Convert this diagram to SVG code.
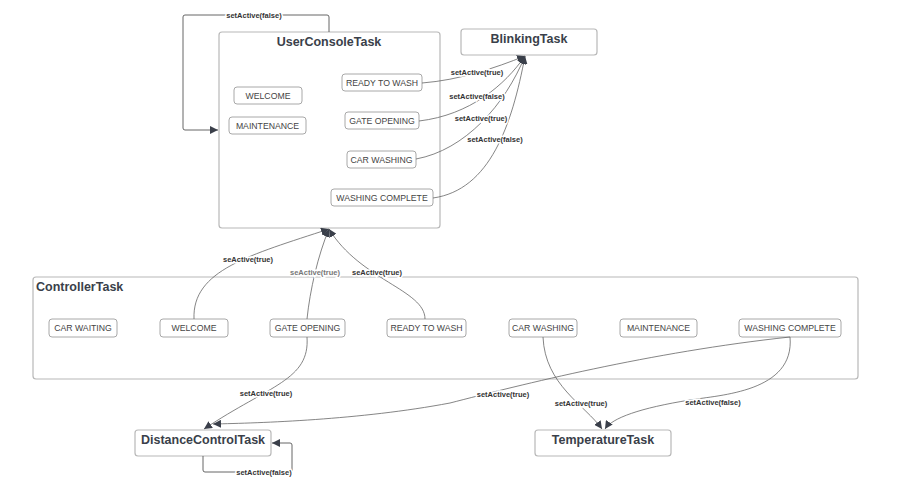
<svg xmlns="http://www.w3.org/2000/svg" width="898" height="492" viewBox="0 0 898 492">
<defs>
<marker id="ah" markerUnits="userSpaceOnUse" markerWidth="9" markerHeight="8" refX="8" refY="4" orient="auto">
<path d="M0,0 L8,4 L0,8 z" fill="#3a3f4a"/>
</marker>
<style>
.box{fill:#fff;stroke:#b8b8b8;stroke-width:1.2}
.st{fill:#fff;stroke:#a8a8a8;stroke-width:1}
.title{font-family:"Liberation Sans",Arial,sans-serif;font-weight:bold;font-size:12.5px;fill:#3a3f4a}
.nt{font-family:"Liberation Sans",Arial,sans-serif;font-size:8.7px;fill:#444;text-anchor:middle}
.lbl{font-family:"Liberation Sans",Arial,sans-serif;font-size:7.5px;font-weight:bold;fill:#333;text-anchor:middle;stroke:#fff;stroke-width:3;paint-order:stroke}
.c{fill:none;stroke:#666;stroke-width:0.8}
.cd{fill:none;stroke:#555;stroke-width:0.9}
</style>
</defs>
<rect width="898" height="492" fill="#fff"/>

<g id="UserConsoleTask">
<rect class="box" x="219" y="32" width="221" height="196" rx="3"/>
<text class="title" x="329" y="46" text-anchor="middle">UserConsoleTask</text>
</g>
<g id="uc-welcome"><rect class="st" x="234" y="87" width="68" height="17" rx="3"/><text class="nt" x="268" y="98.5">WELCOME</text></g>
<g id="uc-maintenance"><rect class="st" x="229" y="117" width="77" height="17" rx="3"/><text class="nt" x="267.5" y="128.5">MAINTENANCE</text></g>
<g id="uc-ready"><rect class="st" x="342" y="74" width="80" height="17" rx="3"/><text class="nt" x="382" y="85.5">READY TO WASH</text></g>
<g id="uc-gate"><rect class="st" x="345" y="112" width="74" height="17" rx="3"/><text class="nt" x="382" y="123.5">GATE OPENING</text></g>
<g id="uc-carwashing"><rect class="st" x="347" y="151" width="69" height="17" rx="3"/><text class="nt" x="381.5" y="162.5">CAR WASHING</text></g>
<g id="uc-complete"><rect class="st" x="331" y="189" width="102" height="17" rx="3"/><text class="nt" x="382" y="200.5">WASHING COMPLETE</text></g>

<g id="BlinkingTask">
<rect class="box" x="461" y="29" width="136" height="26" rx="3"/>
<text class="title" x="529" y="43" text-anchor="middle">BlinkingTask</text>
</g>

<g id="ControllerTask">
<rect class="box" x="33" y="277" width="825" height="102" rx="3"/>
<text class="title" x="36" y="291">ControllerTask</text>
</g>
<g id="ct-carwaiting"><rect class="st" x="49" y="319" width="68" height="18" rx="3"/><text class="nt" x="83" y="330.5">CAR WAITING</text></g>
<g id="ct-welcome"><rect class="st" x="160" y="319" width="68" height="18" rx="3"/><text class="nt" x="194" y="330.5">WELCOME</text></g>
<g id="ct-gate"><rect class="st" x="270" y="319" width="75" height="18" rx="3"/><text class="nt" x="307.5" y="330.5">GATE OPENING</text></g>
<g id="ct-ready"><rect class="st" x="387" y="319" width="79" height="18" rx="3"/><text class="nt" x="426.5" y="330.5">READY TO WASH</text></g>
<g id="ct-carwashing"><rect class="st" x="509" y="319" width="68" height="18" rx="3"/><text class="nt" x="543" y="330.5">CAR WASHING</text></g>
<g id="ct-maintenance"><rect class="st" x="620" y="319" width="77" height="18" rx="3"/><text class="nt" x="658.5" y="330.5">MAINTENANCE</text></g>
<g id="ct-complete"><rect class="st" x="739" y="319" width="102" height="18" rx="3"/><text class="nt" x="790" y="330.5">WASHING COMPLETE</text></g>

<g id="DistanceControlTask">
<rect class="box" x="135" y="430" width="136" height="26" rx="3"/>
<text class="title" x="203" y="444" text-anchor="middle">DistanceControlTask</text>
</g>
<g id="TemperatureTask">
<rect class="box" x="535" y="430" width="136" height="26" rx="3"/>
<text class="title" x="603" y="444" text-anchor="middle">TemperatureTask</text>
</g>

<g id="connectors">
<path class="cd" d="M329,32 V17 Q329,15 327,15 H185 Q183,15 183,17 V128 Q183,130 185,130 H218" marker-end="url(#ah)"/>
<path class="c" d="M422,83 C460,80 495,68 525,56" marker-end="url(#ah)"/>
<path class="c" d="M419,121 C470,115 505,85 525,56" marker-end="url(#ah)"/>
<path class="c" d="M416,159 C465,150 505,105 525,56" marker-end="url(#ah)"/>
<path class="c" d="M433,198 C490,190 512,125 525,56" marker-end="url(#ah)"/>
<path class="c" d="M194,319 C192,270 250,255 329,229" marker-end="url(#ah)"/>
<path class="c" d="M307,319 C310,290 318,255 329,229" marker-end="url(#ah)"/>
<path class="c" d="M425,319 C425,290 360,280 329,229" marker-end="url(#ah)"/>
<path class="c" d="M307,337 C310,380 270,385 204,429" marker-end="url(#ah)"/>
<path class="c" d="M790,337 C650,352 520,385 450,403 C360,420 260,423 213,424" marker-end="url(#ah)"/>
<path class="c" d="M543,337 C545,385 585,405 602,429" marker-end="url(#ah)"/>
<path class="c" d="M790,337 C795,392 720,395 690,400 C640,408 612,418 605,429" marker-end="url(#ah)"/>
<path class="cd" d="M203,456 V470 Q203,472 205,472 H290 Q292,472 292,470 V445 Q292,443 290,443 H272" marker-end="url(#ah)"/>
<text class="lbl" x="254" y="18">setActive(false)</text>
<text class="lbl" x="477" y="75">setActive(true)</text>
<text class="lbl" x="477" y="99">setActive(false)</text>
<text class="lbl" x="481" y="121">setActive(true)</text>
<text class="lbl" x="495" y="142">setActive(false)</text>
<text class="lbl" x="248" y="262">seActive(true)</text>
<text class="lbl" x="315" y="275" style="fill:#777">seActive(true)</text>
<text class="lbl" x="377" y="275">seActive(true)</text>
<text class="lbl" x="266" y="396">setActive(true)</text>
<text class="lbl" x="503" y="397">setActive(true)</text>
<text class="lbl" x="581" y="406">setActive(true)</text>
<text class="lbl" x="713" y="405">setActive(false)</text>
<text class="lbl" x="264" y="475">setActive(false)</text>
</g>
</svg>
